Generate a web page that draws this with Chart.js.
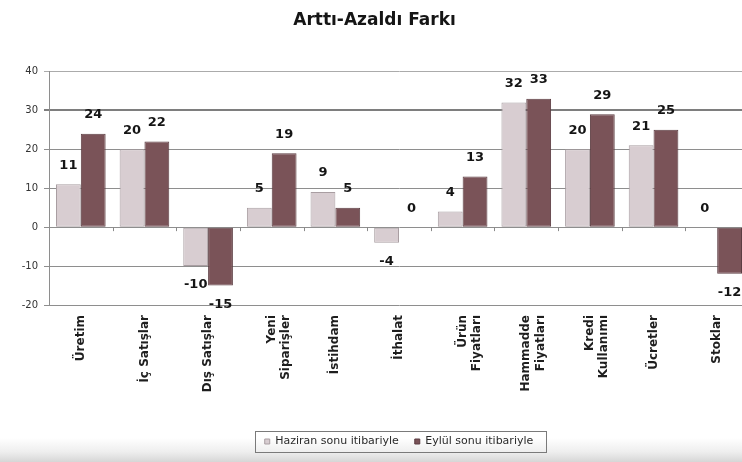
<!DOCTYPE html>
<html lang="tr">
<head>
<meta charset="utf-8">
<title>Arttı-Azaldı Farkı</title>
<script src="https://cdn.jsdelivr.net/npm/chart.js@4.4.1/dist/chart.umd.min.js"></script>
<style>
  html, body { margin: 0; padding: 0; overflow: hidden; width: 742px; height: 462px; }
  body { background: linear-gradient(to bottom, #ffffff 0, #ffffff 438px, #eeeeee 452px, #d6d6d6 462px); }
  canvas { display: block; }
</style>
</head>
<body>
<canvas id="chart" width="752" height="462"></canvas>
<script>
// Categories (multi-line labels are arrays)
const categories = [
  'Üretim', 'İç Satışlar', 'Dış Satışlar', ['Yeni', 'Siparişler'], 'İstihdam',
  'İthalat', ['Ürün', 'Fiyatları'], ['Hammadde', 'Fiyatları'], ['Kredi', 'Kullanımı'],
  'Ücretler', 'Stoklar'
];
const seriesNames = ['Haziran sonu itibariyle', 'Eylül sonu itibariyle'];
const haziranValues = [11, 20, -10, 5, 9, -4, 4, 32, 20, 21, 0];
const eylulValues = [24, 22, -15, 19, 5, 0, 13, 33, 29, 25, -12];
const yTicks = [40, 30, 20, 10, 0, -10, -20];

const FONT = "'DejaVu Sans', 'Liberation Sans', sans-serif";

// Value labels above (or below) each bar
const valueLabels = {
  id: 'valueLabels',
  afterDatasetsDraw(chart) {
    const ctx = chart.ctx;
    ctx.save();
    ctx.font = "bold 13px " + FONT;
    ctx.fillStyle = '#151515';
    ctx.textAlign = 'center';
    ctx.textBaseline = 'middle';
    chart.data.datasets.forEach((ds, di) => {
      const meta = chart.getDatasetMeta(di);
      meta.data.forEach((bar, i) => {
        const v = ds.data[i];
        const y = v < 0 ? bar.y + 19 : bar.y - 19;
        ctx.fillText(String(v), bar.x, y);
      });
    });
    ctx.restore();
  }
};

// Small category separators on the zero line
const zeroTicks = {
  id: 'zeroTicks',
  afterDatasetsDraw(chart) {
    const x = chart.scales.x, y = chart.scales.y;
    const y0 = y.getPixelForValue(0);
    const ctx = chart.ctx;
    ctx.save();
    ctx.strokeStyle = '#8a8a8a';
    ctx.lineWidth = 1;
    const n = categories.length;
    const step = (x.right - x.left) / n;
    for (let i = 1; i < n; i++) {
      const px = Math.round(x.left + step * i) + 0.5;
      ctx.beginPath();
      ctx.moveTo(px, y0);
      ctx.lineTo(px, y0 + 4);
      ctx.stroke();
    }
    ctx.restore();
  }
};

// Frame around the legend entries
const legendFrame = {
  id: 'legendFrame',
  afterDraw(chart) {
    const boxes = chart.legend && chart.legend.legendHitBoxes;
    if (!boxes || !boxes.length) return;
    let l = Infinity, r = -Infinity, t = Infinity, b = -Infinity;
    boxes.forEach(h => {
      l = Math.min(l, h.left); r = Math.max(r, h.left + h.width);
      t = Math.min(t, h.top); b = Math.max(b, h.top + h.height);
    });
    const ctx = chart.ctx;
    ctx.save();
    ctx.strokeStyle = '#7a7a7a';
    ctx.lineWidth = 1;
    ctx.strokeRect(Math.round(l - 10) + 0.5, Math.round(t - 5) + 0.5,
                   Math.round(r - l + 22), Math.round(b - t + 10));
    ctx.restore();
  }
};

new Chart(document.getElementById('chart'), {
  type: 'bar',
  data: {
    labels: categories,
    datasets: [
      {
        label: seriesNames[0],
        data: haziranValues,
        backgroundColor: '#d8cdd1',
        borderColor: '#a99ea2',
        borderWidth: 1,
        borderSkipped: false
      },
      {
        label: seriesNames[1],
        data: eylulValues,
        backgroundColor: '#7a5358',
        borderColor: '#5c3d42',
        borderWidth: 1,
        borderSkipped: false
      }
    ]
  },
  options: {
    responsive: false,
    animation: false,
    events: [],
    layout: { padding: { left: 0, right: 3, top: 0, bottom: 5 } },
    datasets: { bar: { categoryPercentage: 0.78, barPercentage: 1.0 } },
    plugins: {
      title: {
        display: true,
        text: 'Arttı-Azaldı Farkı',
        color: '#151515',
        font: { family: FONT, size: 17, weight: 'bold' },
        padding: { top: 10, bottom: 41 }
      },
      legend: {
        position: 'bottom',
        fullSize: false,
        labels: {
          color: '#2a2a2a',
          font: { family: FONT, size: 11 },
          boxWidth: 5,
          boxHeight: 5,
          padding: 16
        }
      },
      tooltip: { enabled: false }
    },
    scales: {
      x: {
        grid: { display: false, drawTicks: false },
        border: { display: false },
        ticks: {
          autoSkip: false,
          maxRotation: 90,
          minRotation: 90,
          padding: 10,
          color: '#1e1e1e',
          font: { family: FONT, size: 12, weight: 'bold' }
        },
        afterFit(scale) { scale.height = 115; }
      },
      y: {
        min: -20,
        max: 40,
        afterBuildTicks(scale) { scale.ticks = yTicks.map(v => ({ value: v })); },
        ticks: {
          padding: 6,
          color: '#333333',
          font: { family: FONT, size: 10 }
        },
        grid: {
          tickLength: 5,
          color: ctx => ctx.tick && ctx.tick.value === 40 ? '#ababab' : (ctx.tick && ctx.tick.value === 30 ? '#7e7e7e' : '#8e8e8e'),
          lineWidth: ctx => ctx.tick && ctx.tick.value === 30 ? 2 : 1
        },
        border: { display: true, color: '#8e8e8e' },
        afterFit(scale) { scale.width = 49; }
      }
    }
  },
  plugins: [valueLabels, zeroTicks, legendFrame]
});
</script>
</body>
</html>
